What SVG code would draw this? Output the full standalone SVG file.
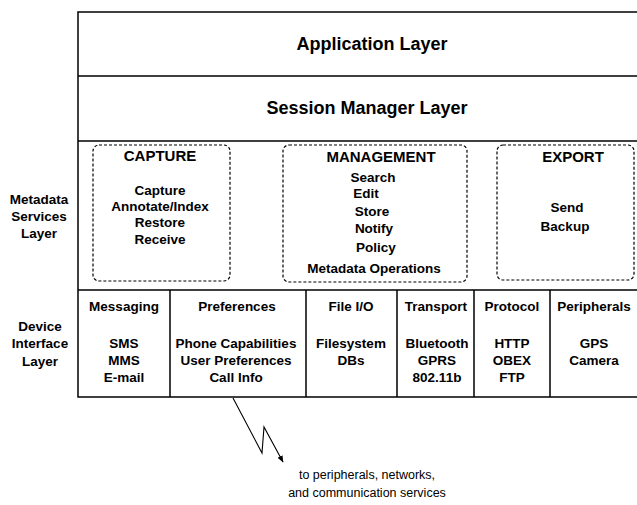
<svg xmlns="http://www.w3.org/2000/svg" width="637" height="505" viewBox="0 0 637 505">
<style>
.t{font-family:"Liberation Sans",Arial,sans-serif;font-weight:bold;fill:#000;text-anchor:middle}
.big{font-size:18px}
.ttl{font-size:15px}
.it{font-size:13.5px}
.note{font-family:"Liberation Sans",Arial,sans-serif;font-size:12.5px;fill:#000;text-anchor:middle}
.frame{stroke:#000;stroke-width:1.5;fill:none}
.dash{stroke:#000;stroke-width:1.2;fill:none;stroke-dasharray:3 2}
.conn{stroke:#000;stroke-width:1.1;fill:none}
</style>
<defs>
<marker id="ah" viewBox="0 0 10 10" refX="9" refY="5" markerWidth="7" markerHeight="7" orient="auto" markerUnits="userSpaceOnUse">
<path d="M0,1 L10,5 L0,9 z" fill="#000"/>
</marker>
</defs>
<g id="frame">
<path class="frame" d="M637,12 H78 V397 H637 M78,76 H637 M78,141 H637 M78,290 H637"/>
</g>
<g id="application-layer">
<text class="t big" x="372" y="50">Application Layer</text>
</g>
<g id="session-manager-layer">
<text class="t big" x="367" y="114">Session Manager Layer</text>
</g>
<g id="metadata-label">
<text class="t it" x="39" y="204">Metadata</text>
<text class="t it" x="39" y="221">Services</text>
<text class="t it" x="39" y="238">Layer</text>
</g>
<g id="capture">
<rect class="dash" x="93" y="145" width="137" height="136" rx="6"/>
<text class="t ttl" x="160" y="161">CAPTURE</text>
<text class="t it" x="160" y="195">Capture</text>
<text class="t it" x="160" y="211">Annotate/Index</text>
<text class="t it" x="160" y="227">Restore</text>
<text class="t it" x="160" y="244">Receive</text>
</g>
<g id="management">
<rect class="dash" x="283" y="145" width="184" height="137" rx="6"/>
<text class="t ttl" x="381" y="162">MANAGEMENT</text>
<text class="t it" x="373" y="182">Search</text>
<text class="t it" x="366" y="198">Edit</text>
<text class="t it" x="372" y="216">Store</text>
<text class="t it" x="374" y="233">Notify</text>
<text class="t it" x="376" y="252">Policy</text>
<text class="t it" x="374" y="273">Metadata Operations</text>
</g>
<g id="export">
<rect class="dash" x="497" y="145" width="137" height="135" rx="6"/>
<text class="t ttl" x="573" y="162">EXPORT</text>
<text class="t it" x="567" y="212">Send</text>
<text class="t it" x="565" y="231">Backup</text>
</g>
<g id="device-label">
<text class="t it" x="40" y="331">Device</text>
<text class="t it" x="40" y="348">Interface</text>
<text class="t it" x="40" y="366">Layer</text>
</g>
<g id="device-dividers">
<path class="frame" d="M170,290 V397 M306,290 V397 M397,290 V397 M474,290 V397 M550,290 V397"/>
</g>
<g id="messaging">
<text class="t it" x="124" y="311">Messaging</text>
<text class="t it" x="124" y="348">SMS</text>
<text class="t it" x="124" y="365">MMS</text>
<text class="t it" x="124" y="382">E-mail</text>
</g>
<g id="preferences">
<text class="t it" x="237" y="311">Preferences</text>
<text class="t it" x="236" y="348">Phone Capabilities</text>
<text class="t it" x="236" y="365">User Preferences</text>
<text class="t it" x="236" y="382">Call Info</text>
</g>
<g id="file-io">
<text class="t it" x="351" y="311">File I/O</text>
<text class="t it" x="351" y="348">Filesystem</text>
<text class="t it" x="351" y="365">DBs</text>
</g>
<g id="transport">
<text class="t it" x="436" y="311">Transport</text>
<text class="t it" x="437" y="348">Bluetooth</text>
<text class="t it" x="437" y="365">GPRS</text>
<text class="t it" x="437" y="382">802.11b</text>
</g>
<g id="protocol">
<text class="t it" x="512" y="311">Protocol</text>
<text class="t it" x="512" y="348">HTTP</text>
<text class="t it" x="512" y="365">OBEX</text>
<text class="t it" x="512" y="382">FTP</text>
</g>
<g id="peripherals">
<text class="t it" x="594" y="311">Peripherals</text>
<text class="t it" x="594" y="348">GPS</text>
<text class="t it" x="594" y="365">Camera</text>
</g>
<g id="connectors">
<path class="conn" d="M233,398 L262,453 L264,427 L283,462" marker-end="url(#ah)"/>
</g>
<g id="note">
<text class="note" x="367" y="479">to peripherals, networks,</text>
<text class="note" x="367" y="497">and communication services</text>
</g>
</svg>
